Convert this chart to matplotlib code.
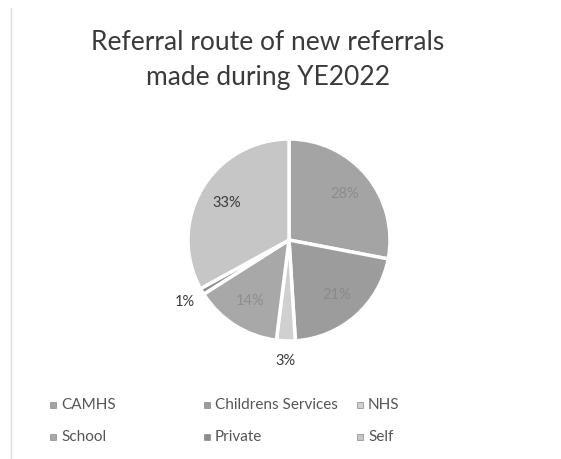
import matplotlib.pyplot as plt
from matplotlib.patches import Rectangle
import numpy as np

# referral routes, clockwise from 12 o'clock
routes = ['CAMHS', 'Childrens Services', 'NHS', 'School', 'Private', 'Self']
shares = [28, 21, 3, 14, 1, 33]
legend_names = ['CAMHS', 'Childrens Services', 'NHS', 'School', 'Private', 'Self']

greys = ['#a4a4a4', '#9c9c9c', '#d0d0d0', '#a8a8a8', '#8c8c8c', '#c6c6c6']
pct_colors = ['#8c8c8c', '#8a8a8a', '#3c3c3c', '#8e8e8e', '#3c3c3c', '#3a3a3a']

plt.rcParams['font.family'] = ['Lato', 'DejaVu Sans']

W, H = 561, 459
fig = plt.figure(figsize=(W / 100, H / 100), dpi=100)
fig.patch.set_facecolor('white')

# pie centre/radius in pixels
cx, cy, r = 289, 240, 101
ax = fig.add_axes([(cx - r) / W, (H - cy - r) / H, 2 * r / W, 2 * r / H])

wedges, texts, autotexts = ax.pie(
    shares, startangle=90, counterclock=False,
    colors=greys, autopct='%d%%', pctdistance=0.72,
    wedgeprops=dict(edgecolor='white', linewidth=2.5),
    textprops=dict(fontsize=10.5))
ax.set_xlim(-1, 1)
ax.set_ylim(-1, 1)

for w, t, c, s in zip(wedges, autotexts, pct_colors, shares):
    t.set_color(c)
    if s < 5:
        # small slices get their label outside the pie
        mid = np.deg2rad((w.theta1 + w.theta2) / 2)
        d = 1.2
        t.set_position((d * np.cos(mid), d * np.sin(mid)))

# title
fig.text(268 / W, 1 - 42 / H, 'Referral route of new referrals', ha='center', va='center',
         fontsize=19, color='#3a3a3a')
fig.text(268 / W, 1 - 77 / H, 'made during YE2022', ha='center', va='center',
         fontsize=19, color='#3a3a3a')

# legend, laid out in a 3x2 grid like the original
col_x = [50, 204, 357]
row_y = [405, 437]
for i, (name, col) in enumerate(zip(legend_names, greys)):
    px = col_x[i % 3]
    py = row_y[i // 3]
    fig.patches.append(Rectangle((px / W, 1 - (py + 3) / H), 6 / W, 6 / H,
                                 transform=fig.transFigure, facecolor=col,
                                 edgecolor='#888888', linewidth=0.5))
    fig.text((px + 11) / W, 1 - py / H, name, ha='left', va='center',
             fontsize=11, color='#555555')

# faint chart border on the left
fig.add_artist(plt.Line2D([11 / W, 11 / W], [0, 1 - 8 / H], transform=fig.transFigure,
                          color='#e0e0e0', linewidth=1))

fig.savefig('out.png', dpi=100, facecolor='white')
